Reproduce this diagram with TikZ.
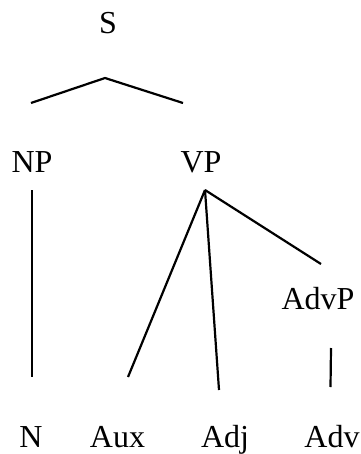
\documentclass[tikz,border=0pt]{standalone}
\usepackage{fontspec}
\setmainfont{Liberation Serif}
\usepackage{tikz}
\usetikzlibrary{positioning}
\tikzset{
  cat/.style={anchor=base, inner sep=0pt, font=\fontsize{32}{38}\selectfont}, % category labels
  branch/.style={line width=2.2pt}                                            % tree branches
}

\begin{document}
\begin{tikzpicture}[x=1pt,y=-1pt]
  \useasboundingbox (0,0) rectangle (360,454);
  % Labels
  \node[cat] (S) at (108,34) {S};
  \node[cat] (NP) at (32,172) {NP};
  \node[cat] (VP) at (201,172) {VP};
  \node[cat] (AdvP) at (318,309) {AdvP};
  \node[cat] (N) at (31,447) {N};
  \node[cat] (Aux) at (117.5,447) {Aux};
  \node[cat] (Adj) at (225,447) {Adj};
  \node[cat] (Adv) at (332,447) {Adv};
  % Branch ends
  \coordinate (sTop) at (105,78);
  \coordinate (sL) at (31,103);
  \coordinate (sR) at (183,103);
  \coordinate (npTop) at (32,190);
  \coordinate (npBot) at (32,377);
  \coordinate (vpTop) at (205,190);
  \coordinate (auxTop) at (128,377);
  \coordinate (adjTop) at (219,390);
  \coordinate (advpTop) at (321,264);
  \coordinate (advpBot) at (331,348);
  \coordinate (advTop) at (330.5,387);
  % Branches
  \draw[branch] (sL) -- (sTop) -- (sR);
  \draw[branch] (npTop) -- (npBot);
  \draw[branch] (vpTop) -- (auxTop);
  \draw[branch] (vpTop) -- (adjTop);
  \draw[branch] (vpTop) -- (advpTop);
  \draw[branch] (advpBot) -- (advTop);
\end{tikzpicture}
\end{document}
